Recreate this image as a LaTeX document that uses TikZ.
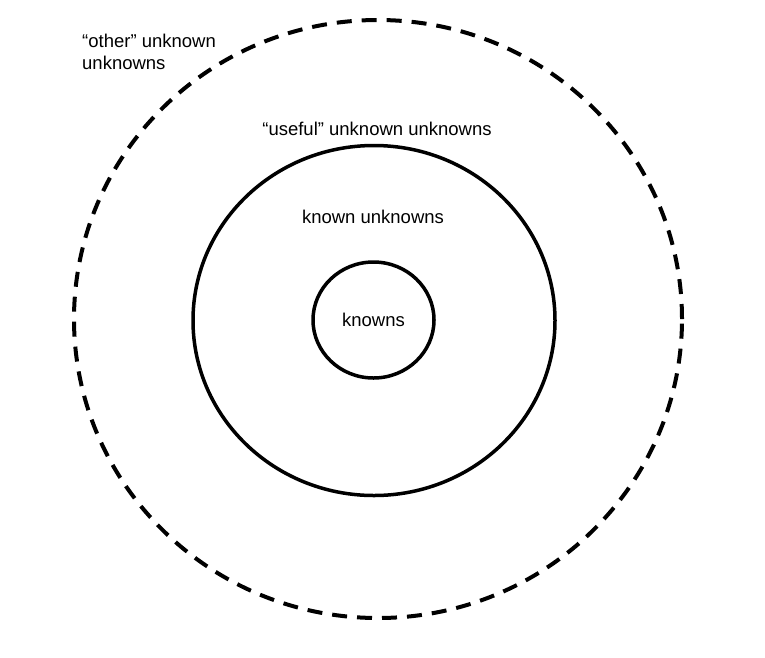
\documentclass[tikz,border=0pt]{standalone}
\usepackage{fontspec}
\setmainfont{Liberation Sans}
\usetikzlibrary{shapes.geometric,positioning}

\tikzset{
	ring/.style={ellipse, draw, line width=3.5pt, inner sep=0pt},
	label/.style={font=\fontsize{18.5}{22}\selectfont, inner sep=0pt}
}

\begin{document}
\begin{tikzpicture}[x=1pt,y=-1pt]

	\useasboundingbox (0,0) rectangle (765,657);

	\node[ring, line width=4pt, dash pattern=on 15pt off 10pt, minimum width=608pt, minimum height=598pt] (other) at (378, 319){};
	\node[ring, minimum width=362pt, minimum height=350pt] (useful) at (374, 320.5){};
	\node[ring, minimum width=121pt, minimum height=116pt, label] (known) at (373.5, 320){knowns};

	\node[label, anchor=base west, align=left] (othertext) at (82, 69) {“other” unknown\\unknowns};
	\node[label, anchor=base] (usefultext) at (377, 135) {“useful” unknown unknowns};
	\node[label, anchor=base] (knowntext) at (373, 223) {known unknowns};

\end{tikzpicture}
\end{document}
